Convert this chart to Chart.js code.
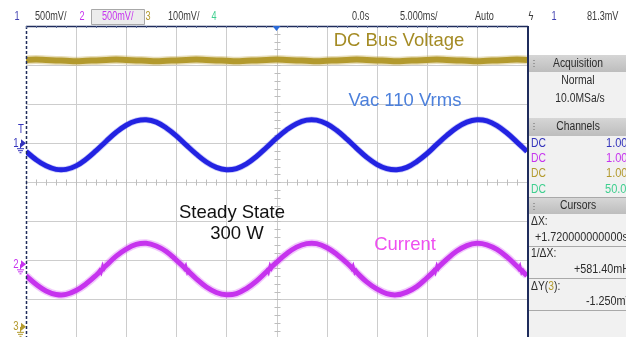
<!DOCTYPE html>
<html>
<head>
<meta charset="utf-8">
<script src="https://cdn.jsdelivr.net/npm/chart.js@4/dist/chart.umd.min.js"></script>
<style>
  html, body { margin: 0; padding: 0; background: #ffffff; overflow: hidden; }
  canvas { display: block; }
</style>
</head>
<body>
<canvas id="scope" width="626" height="337"></canvas>
<script>
// Time base: 5 ms/div, 10 divisions, sampled every 1 ms
const timeMs = [-25,-24,-23,-22,-21,-20,-19,-18,-17,-16,-15,-14,-13,-12,-11,-10,-9,-8,-7,-6,-5,-4,-3,-2,-1,
  0,1,2,3,4,5,6,7,8,9,10,11,12,13,14,15,16,17,18,19,20,21,22,23,24,25];

// Channel 3: DC bus voltage (screen divisions)
const dcBusDiv = [3.13,3.14,3.13,3.12,3.11,3.10,3.11,3.12,3.13,3.14,3.13,3.12,3.11,3.10,3.11,3.12,3.13,3.14,3.13,3.12,3.11,3.10,3.11,3.12,3.13,
  3.14,3.13,3.12,3.11,3.10,3.11,3.12,3.13,3.14,3.13,3.12,3.11,3.10,3.11,3.12,3.13,3.14,3.13,3.12,3.11,3.10,3.11,3.12,3.13,3.14,3.13];

// Channel 1: AC line voltage (screen divisions)
const vacDiv = [0.79,0.58,0.42,0.33,0.33,0.42,0.59,0.81,1.05,1.28,1.46,1.57,1.60,1.54,1.39,1.19,0.95,0.72,0.52,0.38,0.32,0.35,0.47,0.66,0.89,
  1.13,1.34,1.50,1.59,1.59,1.50,1.33,1.11,0.87,0.64,0.46,0.35,0.32,0.38,0.53,0.73,0.97,1.20,1.40,1.54,1.60,1.57,1.45,1.26,1.03,0.79];

// Channel 2: input current (screen divisions)
const currentDiv = [-2.39,-2.61,-2.78,-2.87,-2.87,-2.77,-2.60,-2.38,-2.13,-1.89,-1.71,-1.59,-1.56,-1.63,-1.77,-1.99,-2.23,-2.47,-2.68,-2.82,-2.88,-2.85,-2.72,-2.53,-2.29,
  -2.05,-1.83,-1.66,-1.57,-1.57,-1.67,-1.84,-2.06,-2.31,-2.55,-2.73,-2.85,-2.88,-2.81,-2.67,-2.45,-2.21,-1.97,-1.76,-1.62,-1.56,-1.60,-1.72,-1.91,-2.15,-2.39];

// Zero-crossing distortion bursts on the current trace (null separates bursts)
const glitchMs  = [-17.9,-17.65,-17.5,-17.35,-17.2,-17.0,null,
  -9.4,-9.2,-9.05,-8.9,-8.75,-8.5,null,
  -1.2,-0.95,-0.8,-0.65,-0.5,-0.3,null,
  7.3,7.5,7.65,7.8,7.95,8.2,null,
  15.45,15.7,15.85,16.0,16.15,16.35,null,
  23.95,24.15,24.3,24.45,24.6,24.85];
const glitchDiv = [-2.34,-2.24,-2.32,-2.13,-2.22,-2.12,null,
  -2.12,-2.22,-2.13,-2.31,-2.24,-2.33,null,
  -2.34,-2.24,-2.32,-2.13,-2.22,-2.12,null,
  -2.12,-2.22,-2.13,-2.31,-2.24,-2.33,null,
  -2.34,-2.24,-2.32,-2.13,-2.22,-2.12,null,
  -2.12,-2.22,-2.13,-2.31,-2.24,-2.33];

// Header and side panel readouts
const channelScales = ['500mV/', '500mV/', '100mV/'];
const channelCoupling = ['DC', 'DC', 'DC', 'DC'];
const channelProbe = ['1.00V/', '1.00V/', '1.00V/', '50.0mV/'];

const COL = {
  ch1: '#2323e2', ch2: '#c633ee', ch3: '#b39a2e', ch4: '#3fcf8f',
  grid: '#cdcdcd', frame: '#1f2c5c', text: '#3a3a3a'
};

const pts = (xs, ys) => xs.map((x, i) => (x === null ? { x: NaN, y: null } : { x: x, y: ys[i] }));

const SANS = '"Liberation Sans", Arial, sans-serif';

// Draw text, optionally squeezed horizontally (sx < 1) to mimic the instrument's narrow font
function text(ctx, s, x, y, color, font, align, sx) {
  ctx.save();
  ctx.font = font;
  ctx.fillStyle = color;
  ctx.textAlign = align || 'left';
  ctx.textBaseline = 'middle';
  ctx.translate(x, y);
  ctx.scale(sx || 1, 1);
  ctx.fillText(s, 0, 0);
  ctx.restore();
}

const scopeFrame = {
  id: 'scopeFrame',
  beforeDatasetsDraw(chart) {
    const ctx = chart.ctx, a = chart.chartArea;
    const xs = chart.scales.x, ys = chart.scales.y;
    ctx.save();
    ctx.strokeStyle = COL.grid;
    ctx.lineWidth = 1;
    for (let t = -20; t <= 20; t += 5) {
      const px = Math.round(xs.getPixelForValue(t)) + 0.5;
      ctx.beginPath(); ctx.moveTo(px, a.top); ctx.lineTo(px, a.bottom); ctx.stroke();
    }
    for (let d = -3; d <= 3; d++) {
      const py = Math.round(ys.getPixelForValue(d)) + 0.5;
      ctx.beginPath(); ctx.moveTo(a.left, py); ctx.lineTo(a.right, py); ctx.stroke();
    }
    // minor ticks on the centre axes
    const cx = Math.round(xs.getPixelForValue(0)) + 0.5;
    const cy = Math.round(ys.getPixelForValue(0)) + 0.5;
    ctx.strokeStyle = '#bdbdbd';
    for (let t = -25; t <= 25; t += 1) {
      const px = Math.round(xs.getPixelForValue(t)) + 0.5;
      ctx.beginPath(); ctx.moveTo(px, cy - 3); ctx.lineTo(px, cy + 3); ctx.stroke();
    }
    for (let k = -20; k <= 20; k++) {
      const py = Math.round(ys.getPixelForValue(k / 5)) + 0.5;
      ctx.beginPath(); ctx.moveTo(cx - 3, py); ctx.lineTo(cx + 3, py); ctx.stroke();
    }
    ctx.restore();
  },
  afterDatasetsDraw(chart) {
    const ctx = chart.ctx, a = chart.chartArea;
    const xs = chart.scales.x, ys = chart.scales.y;
    const W = chart.width;
    ctx.save();

    // plot frame
    ctx.strokeStyle = COL.frame;
    ctx.lineWidth = 1.5;
    ctx.beginPath(); ctx.moveTo(a.left, a.top + 0.5); ctx.lineTo(a.right + 1, a.top + 0.5); ctx.stroke();
    ctx.setLineDash([3, 2]);
    ctx.beginPath(); ctx.moveTo(a.left + 0.5, a.top); ctx.lineTo(a.left + 0.5, a.bottom); ctx.stroke();
    ctx.setLineDash([]);
    // small ticks along top border
    ctx.strokeStyle = '#5a6a9a';
    ctx.lineWidth = 1;
    for (let t = -25; t <= 25; t += 1) {
      const px = Math.round(xs.getPixelForValue(t)) + 0.5;
      ctx.beginPath(); ctx.moveTo(px, a.top); ctx.lineTo(px, a.top + 2); ctx.stroke();
    }

    // trigger position marker
    const tx = xs.getPixelForValue(0);
    ctx.fillStyle = '#2a6ad8';
    ctx.beginPath(); ctx.moveTo(tx - 4, a.top); ctx.lineTo(tx + 4, a.top); ctx.lineTo(tx, a.top + 5); ctx.closePath(); ctx.fill();

    // channel ground markers on the left
    const marker = (label, yDiv, color, withT) => {
      const py = ys.getPixelForValue(yDiv);
      text(ctx, label, 16, py, color, '12px ' + SANS, 'center', 0.8);
      ctx.fillStyle = color;
      ctx.beginPath(); ctx.moveTo(21, py - 4); ctx.lineTo(26, py); ctx.lineTo(21, py + 4); ctx.closePath(); ctx.fill();
      ctx.strokeStyle = color; ctx.lineWidth = 1;
      ctx.beginPath();
      ctx.moveTo(20.5, py); ctx.lineTo(20.5, py + 5);
      ctx.moveTo(17, py + 5.5); ctx.lineTo(24, py + 5.5);
      ctx.moveTo(18, py + 7.5); ctx.lineTo(23, py + 7.5);
      ctx.moveTo(19.5, py + 9.5); ctx.lineTo(21.5, py + 9.5);
      ctx.stroke();
      if (withT) text(ctx, 'T', 21, py - 14, color, '12px ' + SANS, 'center', 0.8);
    };
    marker('1', 1.0, '#3333bb', true);
    marker('2', -2.1, COL.ch2, false);
    marker('3', -3.7, COL.ch3, false);

    // waveform annotations
    const af = '18.5px ' + SANS;
    text(ctx, 'DC Bus Voltage', 399, 41, '#a48b24', af, 'center');
    text(ctx, 'Vac 110 Vrms', 405, 101, '#4c80dc', af, 'center');
    text(ctx, 'Steady State', 232, 213, '#111111', af, 'center');
    text(ctx, '300 W', 237, 234, '#111111', af, 'center');
    text(ctx, 'Current', 405, 245, '#ee4ff0', af, 'center');

    // header bar
    const hf = '12px ' + SANS;
    const hy = 17;
    const hs = 0.76;
    text(ctx, '1', 17, hy, '#4040b0', hf, 'center', hs);
    text(ctx, channelScales[0], 35, hy, COL.text, hf, 'left', hs);
    text(ctx, '2', 82, hy, COL.ch2, hf, 'center', hs);
    ctx.fillStyle = '#ececec';
    ctx.strokeStyle = '#a8a8a8';
    ctx.lineWidth = 1;
    ctx.beginPath(); ctx.rect(91.5, 9.5, 53, 15); ctx.fill(); ctx.stroke();
    text(ctx, channelScales[1], 102, hy, COL.ch2, hf, 'left', hs);
    text(ctx, '3', 148, hy, COL.ch3, hf, 'center', hs);
    text(ctx, channelScales[2], 168, hy, COL.text, hf, 'left', hs);
    text(ctx, '4', 214, hy, COL.ch4, hf, 'center', hs);
    text(ctx, '0.0s', 352, hy, COL.text, hf, 'left', hs);
    text(ctx, '5.000ms/', 400, hy, COL.text, hf, 'left', hs);
    text(ctx, 'Auto', 475, hy, COL.text, hf, 'left', hs);
    text(ctx, '\u03DF', 531, hy, COL.text, hf, 'center', hs);
    text(ctx, '1', 554, hy, '#4040b0', hf, 'center', hs);
    text(ctx, '81.3mV', 587, hy, COL.text, hf, 'left', hs);

    // side panel
    const px0 = a.right + 1;
    ctx.fillStyle = '#f1f1f1';
    ctx.fillRect(px0, 55, W - px0, chart.height - 55);
    const ps = 0.86;
    const pf = '12px ' + SANS;
    const header = (label, y0, y1) => {
      const g = ctx.createLinearGradient(0, y0, 0, y1);
      g.addColorStop(0, '#d6d6d6'); g.addColorStop(1, '#bdbdbd');
      ctx.fillStyle = g;
      ctx.fillRect(px0, y0, W - px0, y1 - y0);
      ctx.fillStyle = '#9a9a9a';
      for (let k = 0; k < 3; k++) ctx.fillRect(533, y0 + 5 + k * 3, 2, 1);
      text(ctx, label, 578, (y0 + y1) / 2, '#2c2c2c', pf, 'center', ps);
    };
    const sep = (y) => {
      ctx.strokeStyle = '#a9a9a9'; ctx.lineWidth = 1;
      ctx.beginPath(); ctx.moveTo(px0, y + 0.5); ctx.lineTo(W, y + 0.5); ctx.stroke();
    };
    header('Acquisition', 55, 72);
    text(ctx, 'Normal', 578, 81, '#2c2c2c', pf, 'center', ps);
    text(ctx, '10.0MSa/s', 580, 99, '#2c2c2c', pf, 'center', ps);
    header('Channels', 118, 136);
    const chCols = ['#3333bb', COL.ch2, COL.ch3, COL.ch4];
    [144, 159, 174, 190].forEach((y, i) => {
      text(ctx, channelCoupling[i], 531, y, chCols[i], pf, 'left', ps);
      text(ctx, channelProbe[i], i === 3 ? 605 : 606, y, chCols[i], pf, 'left', 0.92);
    });
    sep(197);
    header('Cursors', 198, 214);
    text(ctx, '\u0394X:', 531, 222, '#2c2c2c', pf, 'left', ps);
    text(ctx, '+1.720000000000s', 535, 238, '#2c2c2c', pf, 'left', 0.9);
    sep(246);
    text(ctx, '1/\u0394X:', 531, 254, '#2c2c2c', pf, 'left', ps);
    text(ctx, '+581.40mHz', 574, 270, '#2c2c2c', pf, 'left', 0.9);
    sep(278);
    ctx.font = pf;
    const w1 = ctx.measureText('\u0394Y(').width * ps;
    const w2 = ctx.measureText('3').width * ps;
    text(ctx, '\u0394Y(', 531, 287, '#2c2c2c', pf, 'left', ps);
    text(ctx, '3', 531 + w1, 287, COL.ch3, pf, 'left', ps);
    text(ctx, '):', 531 + w1 + w2, 287, '#2c2c2c', pf, 'left', ps);
    text(ctx, '-1.250mV', 586, 302, '#2c2c2c', pf, 'left', 0.9);
    sep(310);

    // panel border / right edge of the plot
    ctx.strokeStyle = COL.frame;
    ctx.lineWidth = 2;
    ctx.beginPath(); ctx.moveTo(a.right + 1, a.top); ctx.lineTo(a.right + 1, chart.height); ctx.stroke();
    ctx.restore();
  }
};

new Chart(document.getElementById('scope'), {
  type: 'line',
  data: {
    datasets: [
      { label: 'Current glitches', data: pts(glitchMs, glitchDiv), borderColor: COL.ch2, borderWidth: 2.5, tension: 0, spanGaps: false },
      { label: 'Ch1 Vac', data: pts(timeMs, vacDiv), borderColor: COL.ch1, borderWidth: 5, tension: 0.4 },
      { label: 'Ch2 Current', data: pts(timeMs, currentDiv), borderColor: COL.ch2, borderWidth: 5, tension: 0.4 },
      { label: 'Ch3 DC bus', data: pts(timeMs, dcBusDiv), borderColor: COL.ch3, borderWidth: 6, tension: 0.4 },
      { label: 'Ch1 halo', data: pts(timeMs, vacDiv), borderColor: 'rgba(40,40,230,0.25)', borderWidth: 6.5, tension: 0.4 },
      { label: 'Ch2 halo', data: pts(timeMs, currentDiv), borderColor: 'rgba(205,60,240,0.28)', borderWidth: 8, tension: 0.4 },
      { label: 'Ch3 halo', data: pts(timeMs, dcBusDiv), borderColor: 'rgba(190,160,60,0.35)', borderWidth: 9, tension: 0.4 }
    ]
  },
  options: {
    responsive: false,
    animation: false,
    devicePixelRatio: 1,
    layout: { padding: { left: 26, right: 99, top: 26, bottom: 0 } },
    elements: { point: { radius: 0 } },
    scales: {
      x: { type: 'linear', min: -25, max: 25, display: false },
      y: { type: 'linear', min: -3.96, max: 4, display: false }
    },
    plugins: { legend: { display: false }, tooltip: { enabled: false } }
  },
  plugins: [scopeFrame]
});
</script>
</body>
</html>
